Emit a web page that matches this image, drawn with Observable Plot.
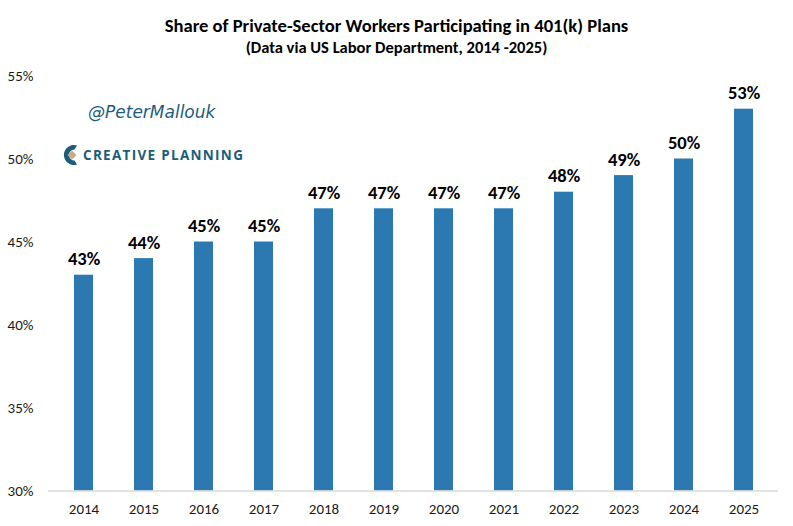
<!DOCTYPE html>
<html>
<head>
<meta charset="utf-8">
<script src="https://cdn.jsdelivr.net/npm/d3@7"></script>
<script src="https://cdn.jsdelivr.net/npm/@observablehq/plot@0.6"></script>
<style>
  body { margin: 0; background: #fff; font-family: Carlito, "Liberation Sans Narrow", "Open Sans", sans-serif; }
  #wrap { position: relative; width: 793px; height: 526px; }
  #title { position: absolute; top: 14px; left: 0; width: 793px; text-align: center; font-weight: bold; font-size: 18.6px; color: #000; }
  #subtitle { position: absolute; top: 37px; left: 0; width: 793px; text-align: center; font-weight: bold; font-size: 16.5px; color: #000; }
  #chart { position: absolute; top: 60px; left: 0; }
  #handle { position: absolute; top: 102px; left: 88px; font-family: "Comic Sans MS", "DejaVu Sans", sans-serif; font-style: italic; font-size: 17px; color: #1d5d7c; }
  #logo { position: absolute; top: 144px; left: 62px; display: flex; align-items: center; }
  #logo span { font-family: "Open Sans", sans-serif; font-weight: bold; font-size: 13.5px; letter-spacing: 1.3px; color: #1d5d7c; margin-left: 5px; }
</style>
</head>
<body>
<div id="wrap">
  <div id="title">Share of Private-Sector Workers Participating in 401(k) Plans</div>
  <div id="subtitle">(Data via US Labor Department, 2014 -2025)</div>
  <div id="chart"></div>
  <div id="handle">@PeterMallouk</div>
  <div id="logo">
    <svg width="16" height="22" viewBox="0 0 16 22">
      <path d="M15 1.5 A10 10 0 1 0 15 20.5 L12.5 16.5 A5.5 5.5 0 1 1 12.5 5.5 Z" fill="#1d5d7c"/>
      <path d="M10 6.5 L14.5 11 L10 15.5 L5.5 11 Z" fill="#c8ad82"/>
    </svg>
    <span>CREATIVE PLANNING</span>
  </div>
</div>
<script>
const years = ["2014","2015","2016","2017","2018","2019","2020","2021","2022","2023","2024","2025"];
const shares = [43, 44, 45, 45, 47, 47, 47, 47, 48, 49, 50, 53];
const yTicks = [30, 35, 40, 45, 50, 55];

const data = years.map((y, i) => ({year: y, share: shares[i]}));
const font = 'Carlito, "Liberation Sans Narrow", "Open Sans", sans-serif';

const chart = Plot.plot({
  width: 793,
  height: 466,
  marginTop: 15.5,
  marginBottom: 35.5,
  marginLeft: 48,
  marginRight: 15,
  style: {fontFamily: font, fontSize: "15px", color: "#1a1a1a", background: "transparent"},
  x: {domain: years, paddingInner: 0.69, paddingOuter: 0.345, label: null, tickSize: 0, tickPadding: 12},
  y: {domain: [30, 55], ticks: yTicks, label: null, tickSize: 0, tickPadding: 15, tickFormat: d => d + "%"},
  marks: [
    Plot.barY(data, {x: "year", y1: 30, y2: "share", fill: "#2c79b1"}),
    Plot.ruleY([30], {stroke: "#d9d9d9", strokeWidth: 1.5}),
    Plot.text(data, {x: "year", y: "share", text: d => d.share + "%", dy: -16, fontWeight: "bold", fontSize: 18.5, fill: "#000"})
  ]
});
document.getElementById("chart").appendChild(chart);
</script>
</body>
</html>
